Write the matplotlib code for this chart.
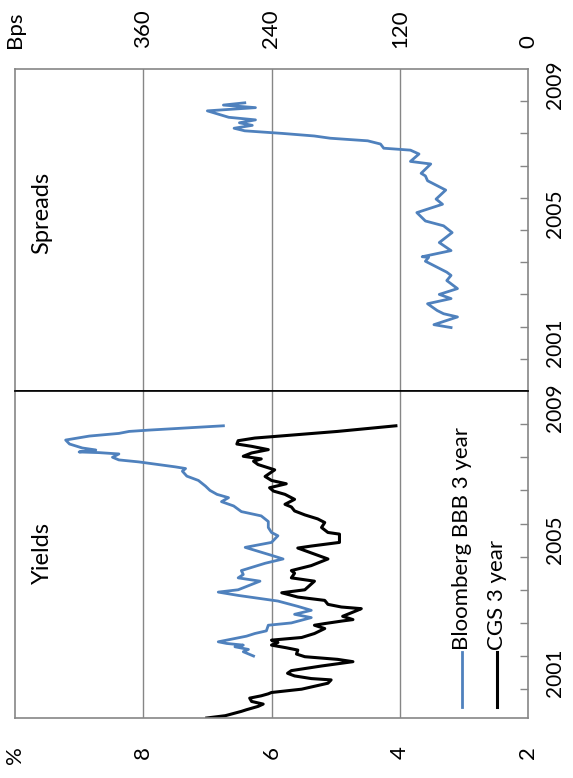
import matplotlib.pyplot as plt
from matplotlib.lines import Line2D

plt.rcParams['font.family'] = ['Lato', 'DejaVu Sans']

# Bloomberg BBB 3 year yield (%), decimal years
bbb_time = [2002.00, 2002.13, 2002.20, 2002.28, 2002.33, 2002.38, 2002.43, 2002.53,
            2002.60, 2002.68, 2002.76, 2002.93, 2003.00, 2003.16, 2003.26, 2003.38,
            2003.50, 2003.66, 2003.83, 2003.93, 2004.00, 2004.26, 2004.36, 2004.46,
            2004.58, 2004.80, 2004.93, 2005.04, 2005.28, 2005.43, 2005.63, 2005.73,
            2005.88, 2006.06, 2006.23, 2006.36, 2006.53, 2006.66, 2006.78, 2006.88,
            2007.00, 2007.13, 2007.30, 2007.43, 2007.58, 2007.66, 2007.71, 2007.86,
            2007.92, 2008.00, 2008.10, 2008.14, 2008.16, 2008.22, 2008.28, 2008.40,
            2008.52, 2008.64, 2008.72, 2008.78, 2008.82, 2008.95]
bbb_yield = [6.28, 6.44, 6.36, 6.57, 6.44, 6.70, 6.83, 6.57,
             6.39, 6.26, 6.08, 6.05, 5.69, 5.38, 5.64, 5.38,
             5.59, 5.90, 6.52, 6.83, 6.52, 6.18, 6.52, 6.44,
             6.47, 6.10, 5.82, 6.00, 6.41, 6.00, 5.90, 6.00,
             6.05, 6.05, 6.16, 6.47, 6.59, 6.78, 6.67, 6.85,
             6.96, 7.03, 7.14, 7.32, 7.39, 7.34, 7.50, 8.07,
             8.38, 8.48, 8.38, 8.69, 9.00, 8.74, 8.95, 9.15,
             9.21, 8.84, 8.38, 8.22, 7.91, 6.75]

# CGS 3 year yield (%)
cgs_time = [2000.13, 2000.20, 2000.33, 2000.38, 2000.48, 2000.55, 2000.63, 2000.73,
            2000.80, 2000.86, 2000.90, 2001.00, 2001.18, 2001.28, 2001.32, 2001.40,
            2001.48, 2001.56, 2001.70, 2001.83, 2001.90, 2001.98, 2002.06, 2002.18,
            2002.25, 2002.33, 2002.41, 2002.48, 2002.56, 2002.68, 2002.83, 2002.93,
            2002.98, 2003.06, 2003.10, 2003.20, 2003.38, 2003.43, 2003.48, 2003.56,
            2003.68, 2003.78, 2003.91, 2004.00, 2004.26, 2004.36, 2004.50, 2004.58,
            2004.73, 2004.93, 2005.26, 2005.32, 2005.43, 2005.68, 2005.73, 2005.88,
            2006.03, 2006.14, 2006.26, 2006.38, 2006.50, 2006.58, 2006.73, 2006.88,
            2006.98, 2007.08, 2007.20, 2007.30, 2007.42, 2007.62, 2007.78, 2007.88,
            2007.95, 2008.03, 2008.13, 2008.23, 2008.33, 2008.40, 2008.50, 2008.58,
            2008.62, 2008.78, 2008.95]
cgs_yield = [7.01, 6.72, 6.47, 6.39, 6.21, 6.13, 6.31, 6.34,
             6.16, 6.05, 6.00, 5.53, 5.12, 5.07, 5.38, 5.64,
             5.75, 5.69, 5.22, 4.73, 4.97, 5.48, 5.61, 5.59,
             5.77, 6.00, 5.90, 6.00, 5.53, 5.33, 5.17, 5.33,
             5.17, 4.89, 4.73, 4.89, 4.66, 4.60, 4.91, 5.12,
             5.17, 5.59, 5.84, 5.48, 5.33, 5.69, 5.64, 5.69,
             5.38, 5.12, 5.59, 5.38, 4.94, 4.94, 5.12, 5.22,
             5.17, 5.28, 5.48, 5.64, 5.69, 5.79, 5.64, 5.79,
             5.97, 6.03, 5.77, 6.00, 6.10, 5.95, 6.21, 6.28,
             6.16, 6.44, 6.31, 6.05, 6.31, 6.54, 6.52, 6.26,
             6.00, 4.97, 4.06]

# Spread BBB over CGS (bps)
spr_time = [2001.97, 2002.06, 2002.30, 2002.40, 2002.50, 2002.71, 2002.87, 2003.00,
            2003.18, 2003.43, 2003.59, 2003.69, 2004.03, 2004.15, 2004.17, 2004.36,
            2004.61, 2004.92, 2005.13, 2005.28, 2005.54, 2005.80, 2005.96, 2006.24,
            2006.53, 2006.68, 2006.76, 2007.05, 2007.13, 2007.36, 2007.48, 2007.54,
            2007.67, 2007.77, 2007.85, 2007.92, 2008.00, 2008.08, 2008.16, 2008.25,
            2008.33, 2008.42, 2008.50, 2008.60, 2008.70, 2008.80, 2008.88, 2008.95]
spr_bps = [72, 88, 66, 79, 85, 94, 72, 83,
           66, 76, 72, 76, 96, 93, 99, 72,
           83, 71, 79, 96, 104, 80, 86, 77,
           94, 96, 100, 91, 110, 102, 110, 135,
           138, 150, 185, 200, 230, 265, 275, 258,
           270, 255, 280, 290, 300, 255, 285, 265]

pct_ticks = [2, 4, 6, 8, 10]
pct_labels = ['2', '4', '6', '8', '%']
bps_ticks = [0, 120, 240, 360, 480]
bps_labels = ['0', '120', '240', '360', 'Bps']
year_ticks = list(range(2001, 2010))
year_labels = ['2001', '2005', '2009']

W, H = 573, 778
grey = '#868686'
blue = '#4F81BD'

fig = plt.figure(figsize=(W / 100, H / 100), dpi=100)
ax_spr = fig.add_axes([15 / W, 1 - 391 / H, 513 / W, 322 / H])
ax_yld = fig.add_axes([15 / W, 1 - 718 / H, 513 / W, 327 / H])


def style(ax, ticks, labels, lim, side, ylim, pad):
    ax.set_xlim(lim)
    ax.set_ylim(ylim)
    ax.set_xticks(ticks)
    ax.set_xticklabels(labels, rotation=90, fontsize=16)
    ax.xaxis.set_ticks_position(side)
    ax.tick_params(axis='x', length=0, pad=pad)
    for t in ticks[1:-1]:
        ax.axvline(t, color=grey, lw=1, zorder=0)
    ax.yaxis.tick_right()
    ax.set_yticks(year_ticks)
    ax.set_yticklabels([])
    ax.set_yticks([2001.5, 2005.5, 2009.5], minor=True)
    ax.set_yticklabels(year_labels, minor=True, rotation=90, fontsize=15,
                       va='center')
    ax.tick_params(axis='y', which='major', direction='in', length=6,
                   color=grey, width=1)
    ax.tick_params(axis='y', which='minor', length=0, pad=12)
    for s in ax.spines.values():
        s.set_color(grey)
        s.set_linewidth(1.2)


style(ax_spr, bps_ticks, bps_labels, (480, 0), 'top', (2000.0, 2010.0), 15)
style(ax_yld, pct_ticks, pct_labels, (10, 2), 'bottom', (2000.13, 2010.0), 20)
ax_spr.spines['bottom'].set_color('black')
ax_yld.spines['top'].set_color('black')

ax_spr.plot(spr_bps, spr_time, color=blue, lw=2)
ax_yld.plot(bbb_yield, bbb_time, color=blue, lw=2)
ax_yld.plot(cgs_yield, cgs_time, color='black', lw=2.2)

fig.text(42 / W, 1 - 213 / H, 'Spreads', rotation=90, ha='center',
         va='center', fontsize=17)
fig.text(42 / W, 1 - 553 / H, 'Yields', rotation=90, ha='center',
         va='center', fontsize=17)

# legend drawn sideways
for xp, col, lw, name in [(462, blue, 2, 'Bloomberg BBB 3 year'),
                          (497, 'black', 2.2, 'CGS 3 year')]:
    fig.add_artist(Line2D([xp / W, xp / W], [1 - 707 / H, 1 - 652 / H],
                          color=col, lw=lw, transform=fig.transFigure))
    fig.text(xp / W, 1 - 650 / H, name, rotation=90, ha='center',
             va='bottom', fontsize=16)

fig.savefig('out.png', dpi=100)
